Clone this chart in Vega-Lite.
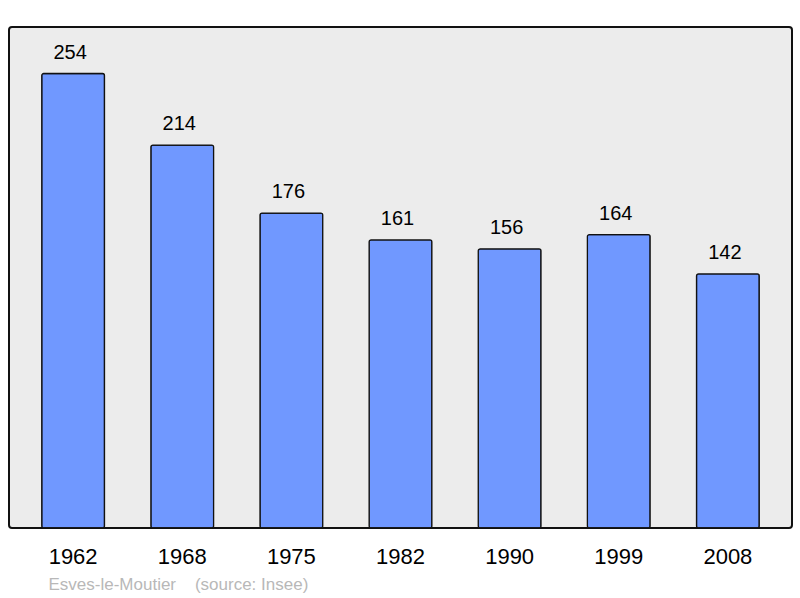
{
  "$schema": "https://vega.github.io/schema/vega-lite/v6.json",
  "width": 783,
  "height": 501,
  "autosize": {"type": "none"},
  "padding": {"left": 9, "top": 27, "right": 8, "bottom": 70},
  "background": "white",
  "config": {
    "font": "Liberation Sans",
    "view": {"fill": "#ececec", "stroke": "#111111", "strokeWidth": 2, "cornerRadius": 3}
  },
  "data": {
    "values": [
      {"year": "1962", "pop": 254},
      {"year": "1968", "pop": 214},
      {"year": "1975", "pop": 176},
      {"year": "1982", "pop": 161},
      {"year": "1990", "pop": 156},
      {"year": "1999", "pop": 164},
      {"year": "2008", "pop": 142}
    ]
  },
  "encoding": {
    "x": {
      "field": "year",
      "type": "ordinal",
      "scale": {"paddingInner": 0.425, "paddingOuter": 0.3},
      "axis": {
        "domain": false,
        "ticks": false,
        "labelAngle": 0,
        "labelFontSize": 22,
        "labelColor": "#000000",
        "labelPadding": 18,
        "title": "Esves-le-Moutier\u00a0\u00a0\u00a0\u00a0(source: Insee)",
        "titleFont": "Liberation Sans",
        "titleFontSize": 17,
        "titleFontWeight": "normal",
        "titleColor": "#b8b8b8",
        "titleAlign": "left",
        "titleBaseline": "middle",
        "titleX": 39,
        "titleY": 56
      }
    },
    "y": {
      "field": "pop",
      "type": "quantitative",
      "scale": {"domain": [0, 280], "nice": false},
      "axis": null
    }
  },
  "layer": [
    {
      "mark": {"type": "bar", "fill": "#7098ff", "stroke": "#111111", "strokeWidth": 1.3, "cornerRadius": 2}
    },
    {
      "mark": {"type": "text", "baseline": "bottom", "dy": -11, "dx": -3, "fontSize": 20, "color": "#000000"},
      "encoding": {"text": {"field": "pop", "type": "quantitative"}}
    }
  ]
}
